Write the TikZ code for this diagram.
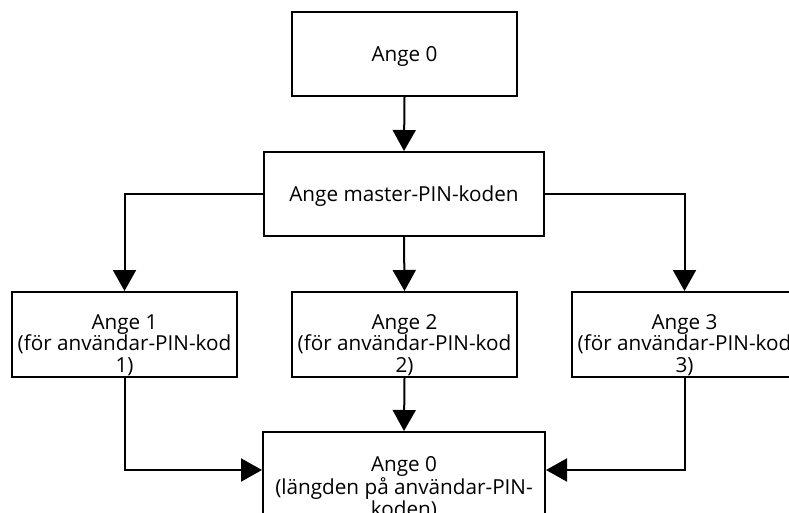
\documentclass[tikz,border=0pt]{standalone}
\usepackage{fontspec}
\setmainfont{Open Sans}
\usetikzlibrary{arrows.meta}
\begin{document}
\begin{tikzpicture}[x=1pt,y=-1pt,
  box/.style={draw=black,line width=2pt,rectangle,minimum width=225pt,minimum height=84pt,inner sep=0pt},
  lbl/.style={align=center,font=\fontsize{20.7}{21.5}\selectfont,inner sep=0pt},
  arr/.style={line width=2pt,-{Triangle[width=23pt,length=21pt]}},
  ln/.style={line width=2pt}]
\useasboundingbox (0,0) rectangle (789,513);
\clip (0,0) rectangle (789,513);
\node[box] (top) at (404.5,54) {};
\node[lbl] (toptxt) at (404.5,56) {Ange 0};
\node[box,minimum width=280pt] (master) at (404,194) {};
\node[lbl] (mastertxt) at (404,196) {Ange master-PIN-koden};
\node[box,minimum height=85pt] (b1) at (124.5,334.5) {};
\node[box,minimum height=85pt] (b2) at (404.5,334.5) {};
\node[box,minimum height=85pt] (b3) at (684.5,334.5) {};
\node[lbl] (t1) at (124.5,345) {Ange 1\\(för användar-PIN-kod\\1)};
\node[lbl] (t2) at (404.5,345) {Ange 2\\(för användar-PIN-kod\\2)};
\node[lbl] (t3) at (684.5,345) {Ange 3\\(för användar-PIN-kod\\3)};
\node[box,minimum width=282pt,minimum height=104pt] (bot) at (404,484) {};
\node[lbl] (bottxt) at (404,488) {Ange 0\\(längden på användar-PIN-\\koden)};
\draw[arr] (top.south) -- (master.north);
\draw[arr] (master.west) -| (b1.north);
\draw[arr] (master.south) -- (b2.north);
\draw[arr] (master.east) -| (b3.north);
\draw[arr] (b2.south) -- (bot.north);
\coordinate (c1) at (b1.south |- 0,470);
\coordinate (c3) at (b3.south |- 0,470);
\draw[arr] (b1.south) -- (c1) -- (c1 -| bot.west);
\draw[arr] (b3.south) -- (c3) -- (c3 -| bot.east);
\end{tikzpicture}
\end{document}
